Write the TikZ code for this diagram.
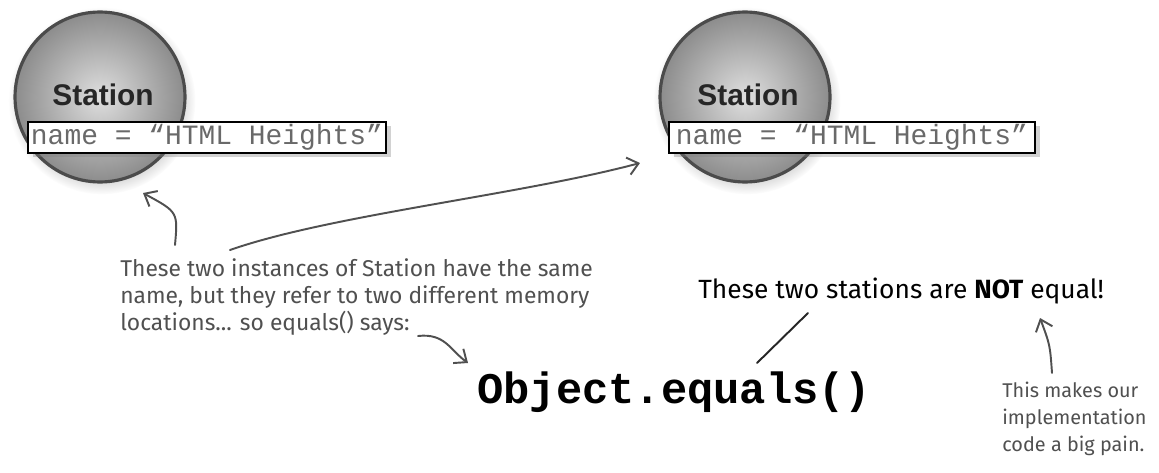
\documentclass[tikz,border=0pt]{standalone}
\usepackage{fontspec}
\setmainfont{Fira Sans}
\newfontfamily\stnfont{Liberation Sans}
\newfontfamily\codefont{Liberation Mono}
\usetikzlibrary{arrows.meta, positioning, shadows}
\definecolor{ballgray}{RGB}{140,140,140}
\definecolor{rimgray}{RGB}{75,75,75}
\definecolor{penink}{RGB}{80,80,80}
\definecolor{codegray}{RGB}{105,105,105}

\begin{document}
\begin{tikzpicture}[x=0.02cm, y=-0.02cm,
    stnball/.style={circle, minimum size=3.4cm, inner sep=0pt, shading=radial,
        inner color=gray!25, outer color=ballgray, draw=rimgray, line width=1.8pt,
        circular drop shadow={shadow xshift=1pt, shadow yshift=-2pt, opacity=0.3}},
    stnlabel/.style={font=\stnfont\bfseries\fontsize{17}{20}\selectfont, text=black!85, inner sep=0pt},
    namebox/.style={rectangle, draw=black, line width=1.2pt, fill=white, text=codegray,
        font=\codefont\fontsize{15.9}{18}\selectfont, minimum height=0.62cm, inner sep=0pt,
        drop shadow={shadow xshift=3pt, shadow yshift=-2pt, opacity=0.35}},
    pennote/.style={align=left, text=penink, inner sep=0pt},
    arr/.style={-{Straight Barb[length=6pt, width=10pt]}, line width=1.1pt, draw=penink, line cap=round},
    link/.style={line width=1.1pt, draw=black!85, line cap=round},
]
\useasboundingbox[fill=white] (0,0) rectangle (1159,473);

% the two Station objects
\foreach \s/\x/\w in {L/100/7.16cm, R/745/7.32cm} {
    \node[stnball] (stn\s) at (\x, 97) {};
    \node[stnlabel] (lbl\s) at (\x+3, 95) {Station};
    \node[namebox, minimum width=\w] (name\s) at (\x+107, 137.5) {name = “HTML Heights”};
}

% annotations
\node[pennote, anchor=north west, font=\fontsize{13}{15.5}\selectfont] (note) at (120,258)
    {These two instances of Station have the same\\name, but they refer to two different memory\\locations... so equals() says:};
\node[anchor=base west, inner sep=0pt, font=\fontsize{15}{17}\selectfont] (noteq) at (698,298)
    {These two stations are \textbf{NOT} equal!};
\node[anchor=base west, inner sep=0pt, font=\codefont\bfseries\fontsize{24.9}{28}\selectfont] (objeq) at (477,403)
    {Object.equals()};
\node[pennote, anchor=north west, font=\fontsize{11.3}{15.4}\selectfont] (pain) at (1002,382)
    {This makes our\\implementation\\code a big pain.};

\coordinate (tailL) at ([xshift=1.1cm, yshift=0.26cm]note.north west);
\coordinate (tipL) at ([xshift=-1.28cm, yshift=-0.78cm]nameL.south);
\coordinate (tailR) at ([xshift=2.2cm, yshift=0.16cm]note.north west);
\coordinate (tipR) at ([xshift=-0.56cm, yshift=-0.51cm]nameR.west);
\coordinate (says) at (418,336);
\coordinate (tipEq) at (468,363);
\coordinate (notA) at (808,313);
\coordinate (notB) at (757,363);
\coordinate (painA) at (1052,373);
\coordinate (painB) at (1040,318);

\draw[arr] (tailL) .. controls (178,212) .. (tipL);
\draw[arr] (tailR) .. controls (330,215) and (520,195) .. (tipR);
\draw[arr] (says) .. controls (445,333) and (450,350) .. (tipEq);
\draw[link] (notA) -- (notB);
\draw[arr] (painA) .. controls (1050,345) .. (painB);
\end{tikzpicture}
\end{document}
